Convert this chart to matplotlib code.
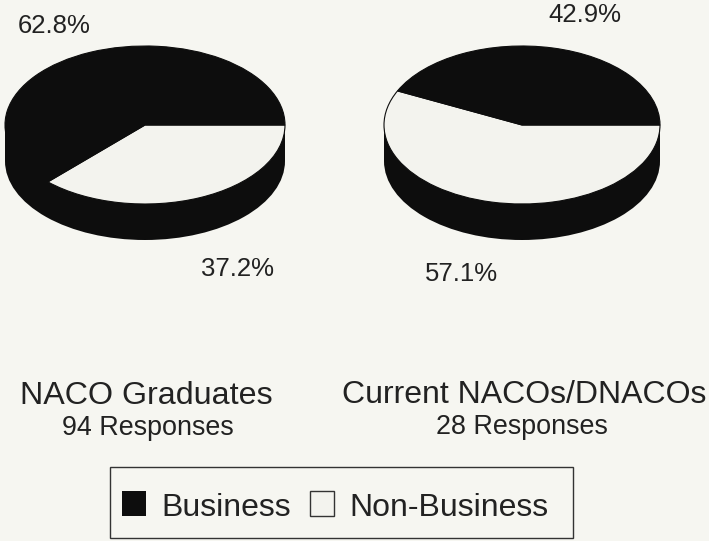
import matplotlib
matplotlib.use('Agg')
import matplotlib.pyplot as plt
from matplotlib.patches import Ellipse, Rectangle

W, H = 709, 541
BG = '#f6f6f1'
DARK = '#0d0d0d'
LIGHT = '#f3f3ee'

plt.rcParams['font.family'] = ['Liberation Sans', 'DejaVu Sans']

categories = ['Non-Business', 'Business']
graduates = [37.2, 62.8]
current = [57.1, 42.9]
titles = ['NACO Graduates', 'Current NACOs/DNACOs']
responses = ['94 Responses', '28 Responses']


def add_pie(bg_ax, values, cx, cy, rx, ry, depth):
    # side of the disc first, the flat pie goes on top of it
    bg_ax.add_patch(Ellipse((cx, cy + depth), 2 * rx, 2 * ry, fc=DARK, ec='none'))
    bg_ax.add_patch(Rectangle((cx - rx, cy), 2 * rx, depth, fc=DARK, ec='none'))
    ax = fig.add_axes([(cx - rx) / W, 1 - (cy + ry) / H, 2 * rx / W, 2 * ry / H])
    ax.pie(values, colors=[LIGHT, DARK], startangle=0, counterclock=False, radius=1,
           wedgeprops={'edgecolor': DARK, 'linewidth': 0.8})
    ax.set_aspect('auto')
    ax.set_xlim(-1, 1)
    ax.set_ylim(-1, 1)
    ax.axis('off')


fig = plt.figure(figsize=(W / 100, H / 100), dpi=100, facecolor=BG)
bg = fig.add_axes([0, 0, 1, 1])
bg.set_xlim(0, W)
bg.set_ylim(H, 0)
bg.axis('off')

add_pie(bg, graduates, 145, 125, 140, 79, 36)
add_pie(bg, current, 522, 125, 138, 79, 36)

txt = '#222222'
bg.text(54, 26, '%.1f%%' % graduates[1], fontsize=18.5, color=txt, ha='center', va='center')
bg.text(238, 269, '%.1f%%' % graduates[0], fontsize=18.5, color=txt, ha='center', va='center')
bg.text(585, 15, '%.1f%%' % current[1], fontsize=18.5, color=txt, ha='center', va='center')
bg.text(461, 274, '%.1f%%' % current[0], fontsize=18.5, color=txt, ha='center', va='center')

bg.text(146, 396, titles[0], fontsize=23.2, color=txt, ha='center', va='center')
bg.text(148, 428, responses[0], fontsize=19.4, color=txt, ha='center', va='center')
bg.text(524, 395, titles[1], fontsize=23, color=txt, ha='center', va='center')
bg.text(522, 427, responses[1], fontsize=19.4, color=txt, ha='center', va='center')

# legend box
bg.add_patch(Rectangle((110, 467), 463, 71, fc='none', ec='#333333', lw=1))
bg.add_patch(Rectangle((122, 491), 24, 25, fc=DARK, ec='none'))
bg.add_patch(Rectangle((310, 491), 24, 25, fc=LIGHT, ec='#333333', lw=1))
bg.text(161, 508, categories[1], fontsize=23, color=txt, ha='left', va='center')
bg.text(349, 508, categories[0], fontsize=23, color=txt, ha='left', va='center')

fig.savefig('out.png', dpi=100, facecolor=BG)
